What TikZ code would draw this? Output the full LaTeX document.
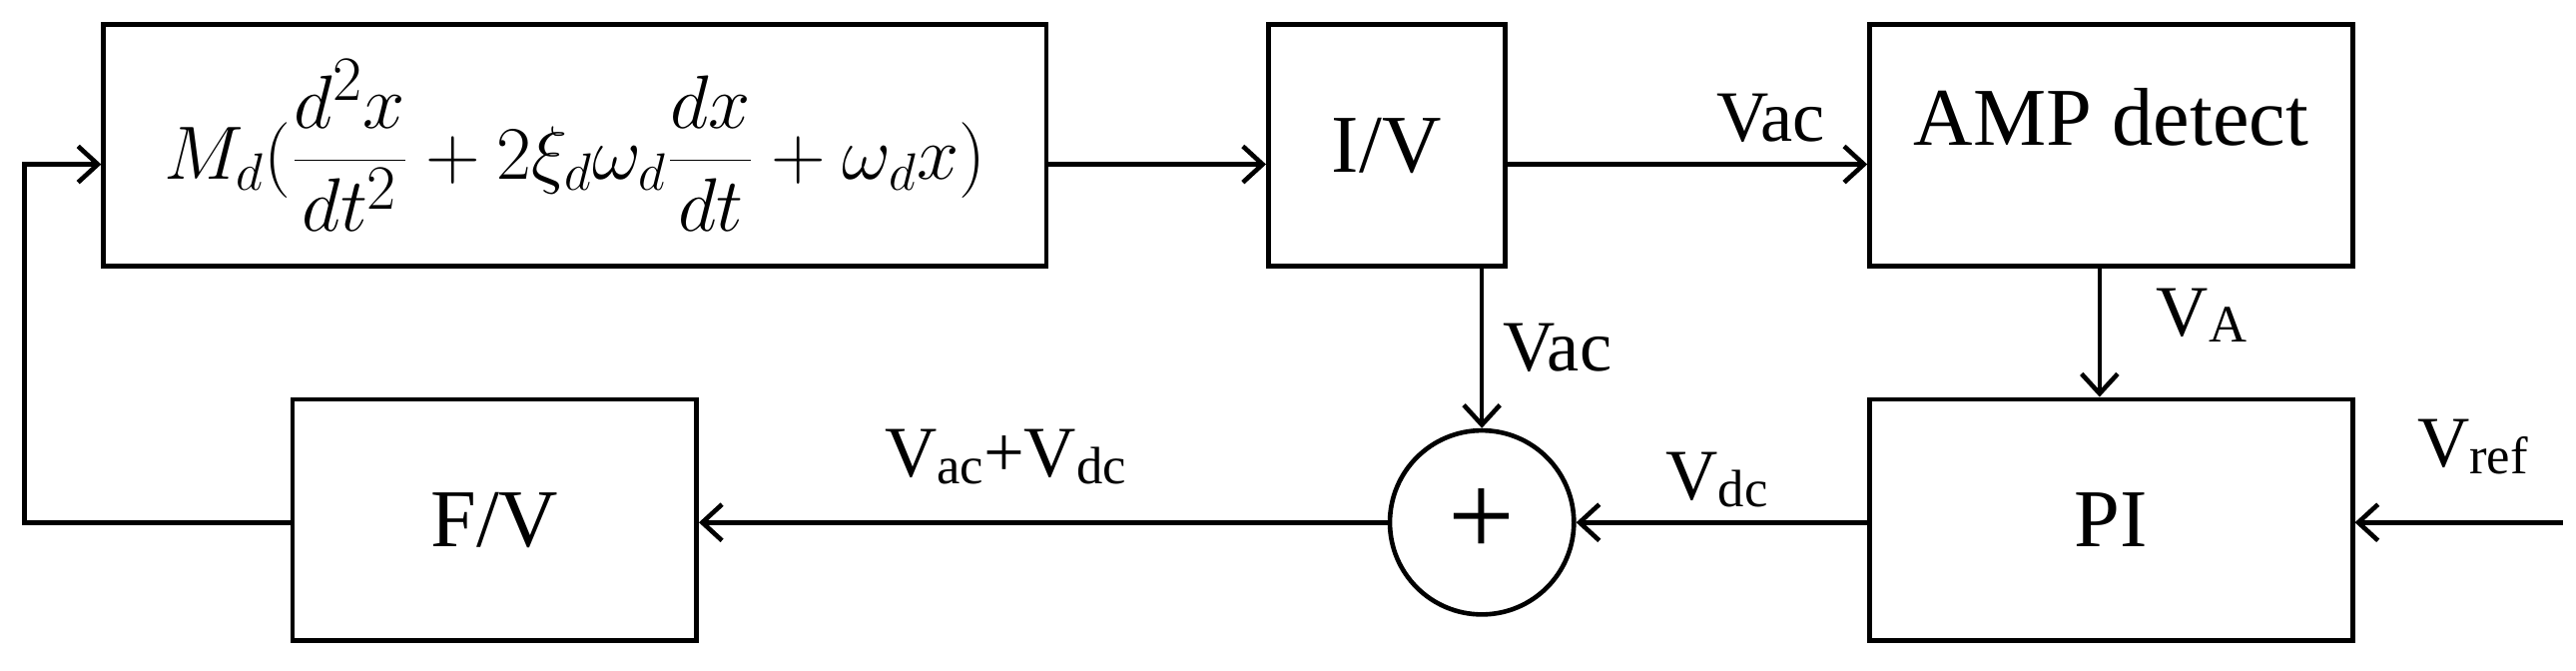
\documentclass[tikz,border=0pt]{standalone}
\usepackage{fontspec}
\usepackage{graphicx}
\setmainfont{Liberation Serif}
\usetikzlibrary{arrows.meta}
\newcommand{\lsub}[1]{\raisebox{-4pt}{\fontsize{32}{36}\selectfont #1}}
\begin{document}
\begin{tikzpicture}[x=1pt,y=-1pt,line width=2.8pt,
  blk/.style={draw,rectangle,inner sep=0pt,font=\fontsize{50}{56}\selectfont},
  lbl/.style={font=\fontsize{44}{50}\selectfont,inner sep=0pt},
  arr/.style={-{Straight Barb[length=12pt,width=22pt,line width=2.8pt]}}]
\useasboundingbox (0,0) rectangle (1568,408);
\node[blk,minimum width=574pt,minimum height=147pt] (dyn) at (350,88.5)
  {\scalebox{1.85}{\fontsize{24.88}{28}\selectfont $\displaystyle M_{\scriptscriptstyle d}(\frac{d^2x}{dt^2}+2\xi_{\scriptscriptstyle d}\omega_{\scriptscriptstyle d}\frac{dx}{dt}+\omega_{\scriptscriptstyle d}x)$}};
\node[blk,minimum width=144pt,minimum height=147pt] (iv) at (844,88.5) {I/V};
\node[blk,minimum width=294pt,minimum height=147pt] (amp) at (1285,88.5) {\raisebox{35pt}{AMP detect}};
\node[blk,minimum width=246pt,minimum height=147pt] (fv) at (301,316.5) {F/V};
\node[blk,minimum width=294pt,minimum height=147pt] (pi) at (1285,316.5) {PI};
\node[draw,circle,minimum size=112pt,inner sep=0pt,font=\fontsize{72}{76}\selectfont] (sum) at (902,318) {+};
\coordinate (ref) at (1560,318);
\coordinate (c1) at (15,318);
\coordinate (c2) at (15,100);
\draw[arr] (fv.west |- 0,318) -- (c1) -- (c2) -- (dyn.west |- 0,100);
\draw[arr] (dyn.east |- 0,100) -- (iv.west |- 0,100);
\draw[arr] (iv.east |- 0,100) -- (amp.west |- 0,100);
\draw[arr] (iv.south -| sum.north) -- (sum.north);
\draw[arr] (amp.south -| 1278,0) -- (pi.north -| 1278,0);
\draw[arr] (ref) -- (pi.east |- ref);
\draw[arr] (pi.west |- sum) -- (sum.east);
\draw[arr] (sum.west) -- (fv.east |- sum);
\node[lbl] (l1) at (1078,72) {Vac};
\node[lbl] (l2) at (948,212) {Vac};
\node[lbl] (l3) at (1340,192) {V\lsub{A}};
\node[lbl] (l4) at (1505,272) {V\lsub{ref}};
\node[lbl] (l5) at (1045,292) {V\lsub{dc}};
\node[lbl] (l6) at (612,278) {V\lsub{ac}+V\lsub{dc}};
\end{tikzpicture}
\end{document}
